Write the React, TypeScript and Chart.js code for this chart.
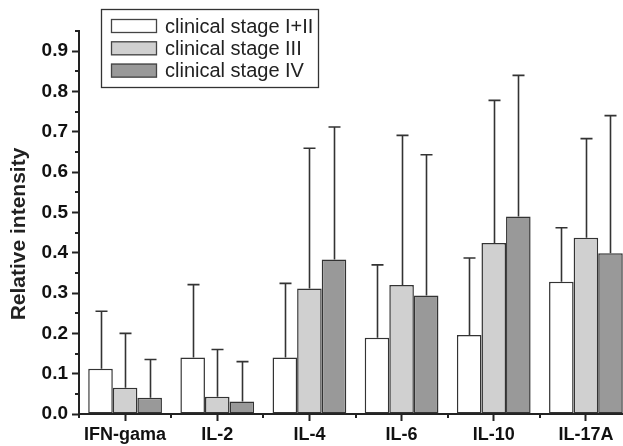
import { useEffect, useRef } from "react";
import { Chart, registerables } from "chart.js";

Chart.register(...registerables);

const categories = ["IFN-gama", "IL-2", "IL-4", "IL-6", "IL-10", "IL-17A"];
const seriesNames = ["clinical stage I+II", "clinical stage III", "clinical stage IV"];
const stage12Mean = [0.112, 0.140, 0.140, 0.189, 0.196, 0.328];
const stage3Mean = [0.065, 0.043, 0.311, 0.320, 0.424, 0.437];
const stage4Mean = [0.040, 0.031, 0.383, 0.294, 0.490, 0.399];
const stage12SD = [0.143, 0.181, 0.184, 0.181, 0.191, 0.134];
const stage3SD = [0.135, 0.117, 0.348, 0.371, 0.354, 0.246];
const stage4SD = [0.095, 0.099, 0.329, 0.349, 0.350, 0.341];
const yTickValues = [0.0, 0.1, 0.2, 0.3, 0.4, 0.5, 0.6, 0.7, 0.8, 0.9];
const yMinorTickValues = [0.05, 0.15, 0.25, 0.35, 0.45, 0.55, 0.65, 0.75, 0.85, 0.95];
const seriesColors = ["#ffffff", "#d0d0d0", "#999999"];
const yTitle = "Relative intensity";
const yMax = 0.95;

const FONT = "'Liberation Sans', Arial, Helvetica, sans-serif";
const INK = "#222222";

const errorBarPlugin = {
  id: "errorBars",
  afterDatasetsDraw(chart: any) {
    const ctx = chart.ctx;
    const yScale = chart.scales.y;
    ctx.save();
    ctx.strokeStyle = "#333333";
    ctx.lineWidth = 1.6;
    chart.data.datasets.forEach((ds: any, di: number) => {
      const meta = chart.getDatasetMeta(di);
      meta.data.forEach((bar: any, i: number) => {
        const v = ds.data[i];
        const e = ds.errors[i];
        const yTop = yScale.getPixelForValue(v + e);
        const yBar = yScale.getPixelForValue(v);
        const x = Math.round(bar.x) + 0.5;
        ctx.beginPath();
        ctx.moveTo(x, yBar);
        ctx.lineTo(x, yTop);
        ctx.moveTo(x - 6, yTop);
        ctx.lineTo(x + 6, yTop);
        ctx.stroke();
      });
    });
    ctx.restore();
  },
};

const decorPlugin = {
  id: "decor",
  afterDraw(chart: any) {
    const ctx = chart.ctx;
    const xs = chart.scales.x;
    const ys = chart.scales.y;
    const area = chart.chartArea;
    ctx.save();
    ctx.strokeStyle = INK;
    ctx.lineWidth = 2;
    // minor y ticks
    yMinorTickValues.forEach((v) => {
      const y = Math.round(ys.getPixelForValue(v));
      ctx.beginPath();
      ctx.moveTo(area.left - 4, y);
      ctx.lineTo(area.left, y);
      ctx.stroke();
    });
    // category boundary ticks
    const n = categories.length;
    const w = xs.getPixelForValue(1) - xs.getPixelForValue(0);
    for (let i = 0; i <= n; i++) {
      const x = Math.round(xs.getPixelForValue(0) - w / 2 + i * w);
      ctx.beginPath();
      ctx.moveTo(x, area.bottom);
      ctx.lineTo(x, area.bottom + 4);
      ctx.stroke();
    }
    // y title
    ctx.save();
    ctx.translate(19, 234);
    ctx.rotate(-Math.PI / 2);
    ctx.fillStyle = INK;
    ctx.font = `bold 21px ${FONT}`;
    ctx.textAlign = "center";
    ctx.textBaseline = "middle";
    ctx.fillText(yTitle, 0, 0);
    ctx.restore();
    // legend
    ctx.lineWidth = 1.3;
    ctx.strokeStyle = "#333333";
    ctx.fillStyle = "#ffffff";
    ctx.fillRect(101, 9, 218, 79);
    ctx.strokeRect(101.5, 9.5, 217, 78);
    const rows = [26, 48.3, 70.6];
    ctx.font = `20px ${FONT}`;
    ctx.textBaseline = "middle";
    ctx.textAlign = "left";
    seriesNames.forEach((name, i) => {
      const cy = rows[i];
      ctx.fillStyle = seriesColors[i];
      ctx.fillRect(111, cy - 7, 46, 14);
      ctx.strokeStyle = "#444444";
      ctx.lineWidth = 1.3;
      ctx.strokeRect(111.5, cy - 6.5, 45, 13);
      ctx.fillStyle = INK;
      ctx.fillText(name, 165, cy + 1);
    });
    ctx.restore();
  },
};

export default function App() {
  const ref = useRef<HTMLCanvasElement | null>(null);
  useEffect(() => {
    if (!ref.current) return;
    const means = [stage12Mean, stage3Mean, stage4Mean];
    const sds = [stage12SD, stage3SD, stage4SD];
    const chart = new Chart(ref.current, {
      type: "bar",
      data: {
        labels: categories,
        datasets: seriesNames.map((name, i) => ({
          label: name,
          data: means[i],
          errors: sds[i],
          backgroundColor: seriesColors[i],
          borderColor: "#333333",
          borderWidth: 1.5,
          borderSkipped: false,
          barPercentage: 1,
          categoryPercentage: 0.8,
        })) as any,
      },
      options: {
        animation: false,
        responsive: false,
        devicePixelRatio: 1,
        layout: { padding: { top: 31, left: 0, right: 0, bottom: 0 } },
        plugins: { legend: { display: false }, tooltip: { enabled: false } },
        scales: {
          x: {
            type: "category",
            offset: true,
            grid: {
              display: true,
              drawOnChartArea: false,
              offset: false,
              tickLength: 7,
              tickWidth: 2,
              tickColor: INK,
            },
            border: { display: true, color: INK, width: 2 },
            ticks: {
              padding: 3,
              color: "#111111",
              font: { family: FONT, size: 18, weight: "bold" },
              maxRotation: 0,
              autoSkip: false,
            },
            afterFit(scale: any) {
              scale.height = 32;
            },
          },
          y: {
            min: 0,
            max: yMax,
            grid: {
              display: true,
              drawOnChartArea: false,
              tickLength: 7,
              tickWidth: 2,
              tickColor: INK,
            },
            border: { display: true, color: INK, width: 2 },
            ticks: {
              padding: 4,
              color: "#111111",
              font: { family: FONT, size: 19, weight: "bold" },
              callback: (v: any) => Number(v).toFixed(1),
            },
            afterBuildTicks(scale: any) {
              scale.ticks = yTickValues.map((v) => ({ value: v }));
            },
            afterFit(scale: any) {
              scale.width = 79;
            },
          },
        },
      },
      plugins: [errorBarPlugin, decorPlugin],
    });
    return () => chart.destroy();
  }, []);
  return (
    <div
      style={{
        position: "fixed",
        left: 0,
        top: 0,
        width: 623,
        height: 446,
        overflow: "hidden",
        background: "#ffffff",
      }}
    >
      <canvas ref={ref} width={632} height={446} style={{ display: "block" }} />
    </div>
  );
}
